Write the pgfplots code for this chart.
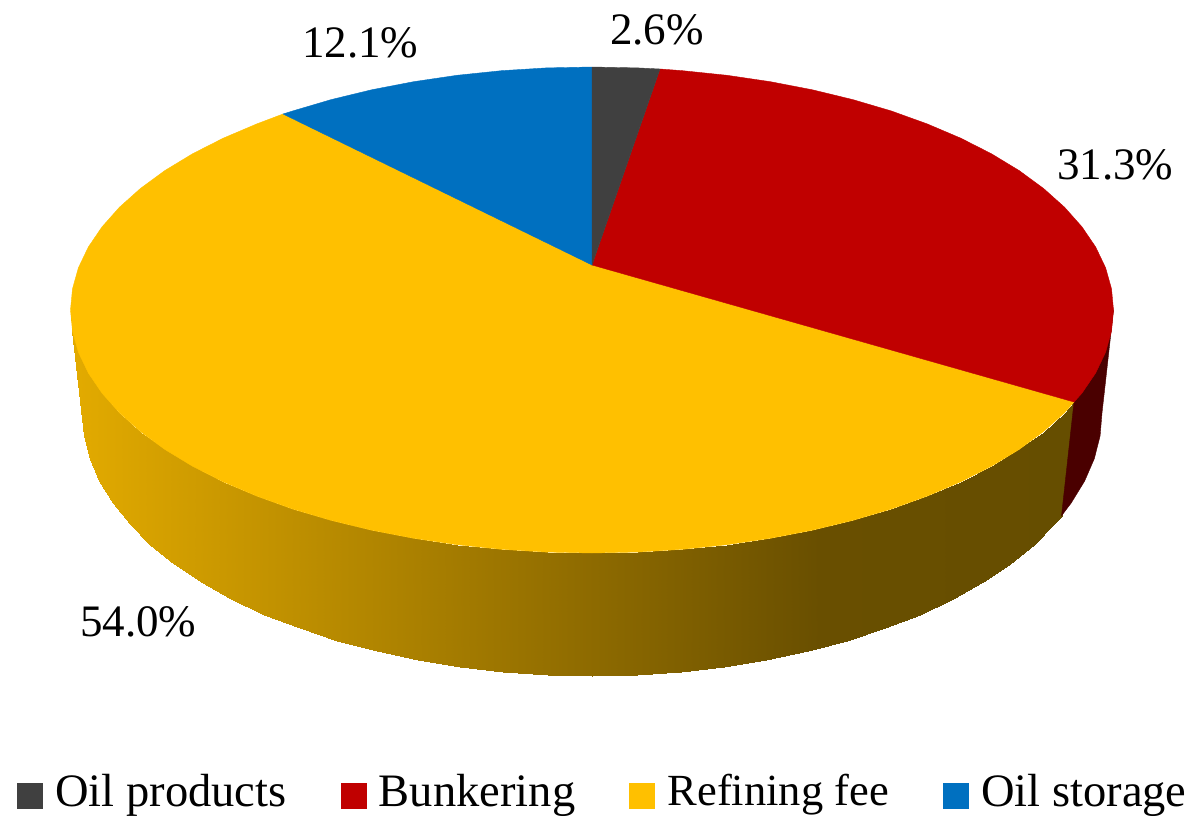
\documentclass[border=0pt]{standalone}
\usepackage{pgfplots}
\pgfplotsset{compat=1.18}
\usepackage{fontspec}
\setmainfont{Liberation Serif}
\definecolor{oilprod}{HTML}{404040}
\definecolor{bunker}{HTML}{C00000}
\definecolor{bunkerside}{HTML}{4A0000}
\definecolor{refine}{HTML}{FFC000}
\definecolor{storage}{HTML}{0070C0}

\pgfplotsset{
  keysquare/.style={
    legend image code/.code={\fill[##1] (0pt,-17pt) rectangle (25pt,8pt);}
  }
}

\begin{document}
\begin{tikzpicture}
\begin{axis}[
    scale only axis,
    width=1189pt, height=819pt,
    xmin=0, xmax=1189, ymin=0, ymax=819,
    y dir=reverse,
    axis lines=none,
    colormap={sideshade}{rgb255=(227,171,0) rgb255=(186,140,0) rgb255=(145,109,0) rgb255=(105,79,0) rgb255=(102,78,0)},
    legend columns=4,
    legend cell align=left,
    legend style={
      at={(axis cs:17,791)}, anchor=west,
      draw=none, fill=none, inner sep=0pt, outer sep=0pt,
      font=\fontsize{46.5}{50}\selectfont,
      nodes={inner sep=0pt, outer sep=0pt},
      /tikz/every even column/.append style={column sep=54pt},
      /tikz/every odd column/.append style={column sep=13pt},
    },
]

% side of the refining slice, upper rim row then lower rim row
\addplot[surf, shader=interp, forget plot, mesh/rows=2, mesh/cols=33, point meta=x,
         point meta min=70, point meta max=1070] coordinates {
(1074,402) (1064.6,412.7) (1043.6,431.5) (1019.2,449.4) (991.5,466.2) (960.8,481.8) (927.2,496.1) (891.1,509.1)
(852.8,520.4) (812.4,530.2) (770.4,538.3) (727,544.7) (682.6,549.3) (637.5,552.1) (592,553) (546.5,552.1)
(501.4,549.3) (457,544.7) (413.6,538.3) (371.6,530.2) (331.2,520.4) (292.9,509.1) (256.8,496.1) (223.2,481.8)
(192.5,466.2) (164.8,449.4) (140.4,431.5) (119.4,412.7) (102,393.1) (88.3,372.9) (78.4,352.2) (72.5,331.2)
(70.5,310)

(1061.5,515.8) (1054.2,524.1) (1033.7,544.5) (1009.8,563.9) (982.7,582) (952.6,599) (919.8,614.5) (884.5,628.4)
(847,640.8) (807.5,651.4) (766.4,660.1) (724,667) (680.6,672) (636.5,675) (592,676) (547.5,675)
(503.4,672) (460,667) (417.6,660.1) (376.5,651.4) (337,640.8) (299.5,628.4) (264.2,614.5) (231.4,599)
(201.3,582) (174.2,563.9) (150.3,544.5) (129.8,524.1) (112.8,503) (99.4,481.1) (89.7,458.7) (83.9,435.9)
(82,413)
};

% side of the bunkering slice
\addplot[fill=bunkerside, draw=bunkerside, line width=0.4pt, forget plot] coordinates {
(1113.5,310) (1102,413) (1100.1,435.9) (1094.3,458.7) (1084.6,481.1) (1071.2,503) (1061.5,515.8) (1074,402)
} --cycle;

% top: refining fee
\addplot[fill=refine, draw=refine, line width=0.4pt, forget plot] coordinates {
(592,265) (1074,402) (1064.6,412.7) (1043.6,431.5) (1019.2,449.4) (991.5,466.2) (960.8,481.8) (927.2,496.1) (891.1,509.1)
(852.8,520.4) (812.4,530.2) (770.4,538.3) (727,544.7) (682.6,549.3) (637.5,552.1) (592,553) (546.5,552.1)
(501.4,549.3) (457,544.7) (413.6,538.3) (371.6,530.2) (331.2,520.4) (292.9,509.1) (256.8,496.1) (223.2,481.8)
(192.5,466.2) (164.8,449.4) (140.4,431.5) (119.4,412.7) (102,393.1) (88.3,372.9) (78.4,352.2) (72.5,331.2)
(70.5,310) (72.5,288.8) (78.4,267.8) (88.3,247.1) (102,226.9) (119.4,207.3) (140.4,188.5) (164.8,170.6)
(192.5,153.8) (223.2,138.2) (256.8,123.9) (283,114)
} --cycle;

% top: bunkering
\addplot[fill=bunker, draw=bunker, line width=0.4pt, forget plot] coordinates {
(592,265) (660,69) (682.6,70.7) (727,75.3) (770.4,81.7) (812.4,89.8) (852.8,99.6) (891.1,110.9) (927.2,123.9)
(960.8,138.2) (991.5,153.8) (1019.2,170.6) (1043.6,188.5) (1064.6,207.3) (1082,226.9) (1095.7,247.1)
(1105.6,267.8) (1111.5,288.8) (1113.5,310) (1111.5,331.2) (1105.6,352.2) (1095.7,372.9) (1082,393.1) (1074,402)
} --cycle;

% top: oil storage
\addplot[fill=storage, draw=storage, line width=0.4pt, forget plot] coordinates {
(592,265) (283,114) (292.9,110.9) (331.2,99.6) (371.6,89.8) (413.6,81.7) (457,75.3) (501.4,70.7) (546.5,67.9) (592,67)
} --cycle;

% top: oil products
\addplot[fill=oilprod, draw=oilprod, line width=0.4pt, forget plot] coordinates {
(592,265) (592,67) (637.5,67.9) (660,69)
} --cycle;

\addlegendimage{keysquare, oilprod}
\addlegendentry{Oil products}
\addlegendimage{keysquare, bunker}
\addlegendentry{Bunkering}
\addlegendimage{keysquare, refine}
\addlegendentry{\fontsize{44.5}{50}\selectfont Refining fee}
\addlegendimage{keysquare, storage}
\addlegendentry{Oil storage}

\node[anchor=base west, inner sep=0pt, font=\fontsize{45}{50}\selectfont] at (axis cs:610,44) {2.6\%};
\node[anchor=base west, inner sep=0pt, font=\fontsize{45}{50}\selectfont] at (axis cs:302,57) {12.1\%};
\node[anchor=base west, inner sep=0pt, font=\fontsize{45}{50}\selectfont] at (axis cs:1057,179) {31.3\%};
\node[anchor=base west, inner sep=0pt, font=\fontsize{45}{50}\selectfont] at (axis cs:80,636) {54.0\%};

\end{axis}
\pgfresetboundingbox
\useasboundingbox (0,0) rectangle (1189pt,819pt);
\end{tikzpicture}
\end{document}
